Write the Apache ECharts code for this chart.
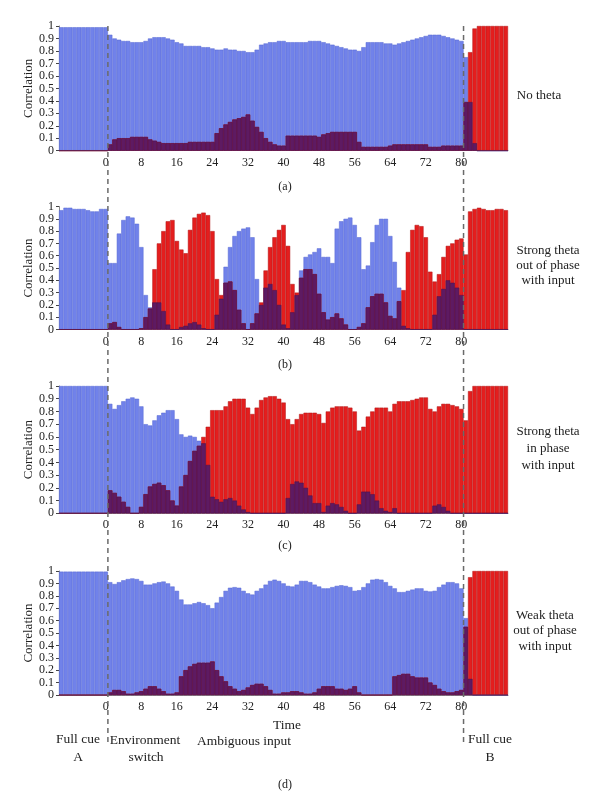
<!DOCTYPE html>
<html><head><meta charset="utf-8">
<script src="https://cdn.jsdelivr.net/npm/echarts@6/dist/echarts.min.js"></script>
<style>html,body{margin:0;padding:0;background:#fff}#c{width:600px;height:802px}</style>
</head><body><div id="c"></div>
<script>
// time steps -10 .. 90 (full cue A: -10..0, ambiguous input: 1..80, full cue B: 81..90)
const timeSteps = Array.from({length: 101}, (_, i) => i - 10);
const xTickLabels = [0, 8, 16, 24, 32, 40, 48, 56, 64, 72, 80];

// Panel (a) No theta
const blueA = [0.99,0.99,0.99,0.99,0.99,0.99,0.99,0.99,0.99,0.99,0.99,
 0.93,0.90,0.89,0.88,0.88,0.87,0.87,0.87,0.88,0.90,
 0.91,0.91,0.91,0.90,0.89,0.87,0.86,0.84,0.84,0.84,
 0.84,0.83,0.83,0.82,0.81,0.81,0.82,0.81,0.81,0.80,
 0.80,0.79,0.79,0.81,0.85,0.86,0.87,0.87,0.88,0.88,
 0.87,0.87,0.87,0.87,0.87,0.88,0.88,0.88,0.87,0.86,
 0.85,0.84,0.83,0.82,0.81,0.81,0.80,0.83,0.87,0.87,
 0.87,0.87,0.86,0.86,0.85,0.86,0.87,0.88,0.89,0.90,
 0.91,0.92,0.93,0.93,0.93,0.92,0.91,0.90,0.89,0.88,
 0.75,0.39,0.06,0,0,0,0,0,0,0];
const redA = [0,0,0,0,0,0,0,0,0,0,0,
 0.05,0.09,0.10,0.10,0.10,0.11,0.11,0.11,0.11,0.09,
 0.08,0.07,0.06,0.06,0.06,0.06,0.06,0.06,0.07,0.07,
 0.07,0.07,0.07,0.07,0.14,0.18,0.21,0.23,0.25,0.26,
 0.27,0.29,0.24,0.19,0.15,0.10,0.07,0.05,0.04,0.04,
 0.12,0.12,0.12,0.12,0.12,0.12,0.12,0.11,0.13,0.14,
 0.15,0.15,0.15,0.15,0.15,0.15,0.07,0.03,0.03,0.03,
 0.03,0.03,0.03,0.04,0.05,0.05,0.05,0.05,0.05,0.05,
 0.05,0.05,0.03,0.03,0.03,0.04,0.04,0.04,0.04,0.04,
 0.39,0.79,0.98,1,1,1,1,1,1,1];

// Panel (b) Strong theta out of phase with input
const blueB = [0.97,0.99,0.99,0.98,0.98,0.98,0.97,0.96,0.96,0.98,0.98,
 0.54,0.54,0.78,0.89,0.92,0.91,0.86,0.67,0.28,0.18,
 0.22,0.22,0.15,0.04,0,0,0.02,0.03,0.05,0.06,
 0.04,0.01,0,0,0.12,0.25,0.51,0.67,0.76,0.80,
 0.82,0.83,0.75,0.41,0.20,0.34,0.37,0.32,0.20,0.04,
 0.01,0.14,0.28,0.48,0.59,0.61,0.63,0.66,0.59,0.59,
 0.54,0.82,0.88,0.90,0.91,0.85,0.75,0.49,0.52,0.71,
 0.85,0.90,0.90,0.76,0.55,0.34,0.03,0.01,0,0,
 0,0,0,0.12,0.27,0.33,0.40,0.38,0.34,0.28,
 0,0,0,0,0,0,0,0,0,0];
const redB = [0,0,0,0,0,0,0,0,0,0,0,
 0.05,0.06,0.02,0,0,0,0,0.01,0.10,0.17,
 0.49,0.70,0.80,0.88,0.89,0.72,0.65,0.62,0.81,0.91,
 0.94,0.95,0.93,0.80,0.41,0.28,0.38,0.39,0.32,0.16,
 0.05,0,0.05,0.13,0.22,0.48,0.67,0.75,0.81,0.85,
 0.68,0.37,0.30,0.42,0.49,0.49,0.45,0.29,0.14,0.08,
 0.10,0.13,0.09,0.04,0,0,0.02,0.05,0.18,0.27,
 0.29,0.29,0.22,0.11,0.09,0.23,0.32,0.63,0.81,0.85,
 0.84,0.75,0.47,0.39,0.45,0.59,0.68,0.70,0.73,0.74,
 0.61,0.96,0.98,0.99,0.98,0.97,0.97,0.98,0.98,0.97];

// Panel (c) Strong theta in phase with input
const blueC = [1,1,1,1,1,1,1,1,1,1,1,
 0.86,0.82,0.85,0.88,0.90,0.91,0.90,0.84,0.70,0.69,
 0.73,0.77,0.79,0.81,0.81,0.74,0.62,0.60,0.61,0.60,
 0.57,0.55,0.38,0.13,0.11,0.09,0.11,0.12,0.10,0.06,
 0.03,0.01,0,0,0,0,0,0,0,0,
 0.12,0.23,0.25,0.24,0.20,0.14,0.08,0.08,0.01,0.06,
 0.08,0.07,0.05,0.02,0,0,0.07,0.17,0.17,0.15,
 0.10,0.04,0.02,0.01,0.04,0,0,0,0,0,
 0,0,0,0.06,0.07,0.05,0.02,0,0,0,
 0,0,0,0,0,0,0,0,0,0];
const redC = [0,0,0,0,0,0,0,0,0,0,0,
 0.18,0.16,0.13,0.09,0.05,0,0,0.05,0.15,0.21,
 0.23,0.24,0.22,0.18,0.10,0.06,0.21,0.30,0.41,0.49,
 0.53,0.60,0.68,0.81,0.81,0.81,0.84,0.88,0.90,0.90,
 0.90,0.83,0.78,0.83,0.89,0.91,0.92,0.92,0.90,0.87,
 0.74,0.70,0.74,0.78,0.79,0.79,0.79,0.78,0.71,0.80,
 0.83,0.84,0.84,0.84,0.83,0.80,0.65,0.68,0.76,0.80,
 0.83,0.83,0.83,0.80,0.86,0.88,0.88,0.88,0.89,0.90,
 0.91,0.91,0.82,0.80,0.84,0.86,0.86,0.85,0.84,0.82,
 0.73,0.96,1,1,1,1,1,1,1,1];

// Panel (d) Weak theta out of phase with input
const blueD = [0.995,0.995,0.995,0.995,0.995,0.995,0.995,0.995,0.995,0.995,0.995,
 0.91,0.895,0.91,0.925,0.935,0.94,0.935,0.92,0.89,0.89,
 0.90,0.91,0.915,0.90,0.875,0.84,0.77,0.73,0.73,0.74,
 0.75,0.74,0.725,0.70,0.745,0.79,0.84,0.865,0.87,0.865,
 0.84,0.82,0.81,0.84,0.86,0.89,0.92,0.93,0.92,0.90,
 0.88,0.875,0.89,0.92,0.92,0.91,0.89,0.875,0.86,0.86,
 0.87,0.88,0.885,0.88,0.87,0.84,0.845,0.87,0.90,0.93,
 0.935,0.93,0.91,0.88,0.86,0.83,0.83,0.84,0.85,0.86,
 0.86,0.84,0.835,0.84,0.87,0.89,0.91,0.91,0.90,0.86,
 0.62,0.13,0,0,0,0,0,0,0,0];
const redD = [0,0,0,0,0,0,0,0,0,0,0,
 0.02,0.04,0.04,0.03,0.01,0.01,0.02,0.03,0.05,0.07,
 0.07,0.05,0.03,0.01,0.01,0.02,0.15,0.20,0.23,0.25,
 0.26,0.26,0.26,0.27,0.20,0.15,0.11,0.07,0.05,0.03,
 0.04,0.06,0.08,0.09,0.09,0.07,0.04,0.01,0.01,0.02,
 0.02,0.03,0.03,0.02,0.01,0.01,0.02,0.05,0.07,0.07,
 0.07,0.05,0.05,0.04,0.05,0.07,0.02,0,0,0,
 0,0,0,0,0.15,0.16,0.17,0.17,0.15,0.14,
 0.14,0.14,0.10,0.08,0.05,0.03,0.02,0.02,0.03,0.04,
 0.55,0.95,1,1,1,1,1,1,1,1];

const panelBlue = [blueA, blueB, blueC, blueD];
const panelRed = [redA, redB, redC, redD];
const panelCaptions = ['(a)', '(b)', '(c)', '(d)'];
const conditionLabels = ['No theta', 'Strong theta\nout of phase\nwith input', 'Strong theta\nin phase\nwith input', 'Weak theta\nout of phase\nwith input'];

const SERIF = '"Liberation Serif", "DejaVu Serif", serif';
const grids = [
  {left: 59, width: 449, top: 26, height: 124.7},
  {left: 59, width: 449, top: 206.5, height: 123},
  {left: 59, width: 449, top: 386, height: 127.3},
  {left: 59, width: 449, top: 571, height: 124}
];

const chart = echarts.init(document.getElementById('c'), null, {renderer: 'canvas'});
const xAxes = [], yAxes = [], series = [];
grids.forEach((g, i) => {
  xAxes.push({
    type: 'category', gridIndex: i, data: timeSteps.map(String), boundaryGap: true,
    axisLine: {show: true, lineStyle: {color: '#8a8a8a', width: 1}},
    axisTick: {show: false},
    axisLabel: {
      interval: (idx, val) => xTickLabels.indexOf(Number(val)) >= 0,
      fontFamily: SERIF, fontSize: 12, color: '#222', margin: 6
    },
    splitLine: {show: false}
  });
  yAxes.push({
    type: 'value', gridIndex: i, min: 0, max: 1, interval: 0.1,
    name: 'Correlation', nameLocation: 'middle', nameGap: 24, nameRotate: 90,
    nameMoveOverlap: false,
    nameTextStyle: {fontFamily: SERIF, fontSize: 13, color: '#222'},
    axisLine: {show: true, lineStyle: {color: '#8a8a8a', width: 1}},
    axisTick: {show: true, length: 3, lineStyle: {color: '#444'}},
    axisLabel: {formatter: v => String(Number(v.toFixed(1))), fontFamily: SERIF, fontSize: 12, color: '#222', margin: 5},
    splitLine: {show: false}
  });
  const b = panelBlue[i], r = panelRed[i];
  const overlap = b.map((v, k) => Math.min(v, r[k]));
  const common = {type: 'bar', xAxisIndex: i, yAxisIndex: i, barWidth: '100%', barGap: '-100%', silent: true, animation: false};
  series.push(Object.assign({}, common, {name: 'A' + i, data: b, itemStyle: {color: '#7182ea', borderColor: '#5566d2', borderWidth: 0.5}}));
  series.push(Object.assign({}, common, {name: 'B' + i, data: r, itemStyle: {color: '#e41e1e', borderColor: '#b01515', borderWidth: 0.5}}));
  series.push(Object.assign({}, common, {name: 'AB' + i, data: overlap, itemStyle: {color: '#5e1a62', borderColor: '#4a1250', borderWidth: 0.5}}));
});

chart.setOption({
  backgroundColor: '#fff', animation: false,
  grid: grids, xAxis: xAxes, yAxis: yAxes, series: series
});

// Dashed event lines at the boundaries between time 0|1 and 80|81, located via the axis scale
function boundaryX(i0) {
  const a = chart.convertToPixel({xAxisIndex: 0}, i0);
  const b = chart.convertToPixel({xAxisIndex: 0}, i0 + 1);
  return (a + b) / 2;
}
const xStart = boundaryX(timeSteps.indexOf(0));
const xEnd = boundaryX(timeSteps.indexOf(80));
const yTop = chart.convertToPixel({yAxisIndex: 0}, 1);
const yBottom = 743;

const graphics = [];
[xStart, xEnd].forEach(x => graphics.push({
  type: 'line', silent: true, z: 100,
  shape: {x1: x, y1: yTop, x2: x, y2: yBottom},
  style: {stroke: '#6a6a6a', lineWidth: 1.5, lineDash: [5, 4]}
}));
const captionY = [187, 365, 546, 785];
panelCaptions.forEach((c, i) => graphics.push({
  type: 'text', silent: true, x: 285, y: captionY[i],
  style: {text: c, font: '12px ' + SERIF, fill: '#222', align: 'center', verticalAlign: 'middle'}
}));
const condX = [539, 548, 548, 545];
const condY = [96, 266, 449, 631];
const condLH = [16, 15, 17, 15.5];
conditionLabels.forEach((c, i) => graphics.push({
  type: 'text', silent: true, x: condX[i], y: condY[i],
  style: {text: c, font: '13px ' + SERIF, fill: '#222', align: 'center', verticalAlign: 'middle', lineHeight: condLH[i]}
}));
const bottomTexts = [
  ['Time', 287, 725], ['Full cue', 78, 739], ['A', 78, 757],
  ['Environment', 145, 740], ['switch', 146, 757], ['Ambiguous input', 244, 741],
  ['Full cue', 490, 739], ['B', 490, 757]
];
bottomTexts.forEach(t => graphics.push({
  type: 'text', silent: true, x: t[1], y: t[2],
  style: {text: t[0], font: '13.5px ' + SERIF, fill: '#222', align: 'center', verticalAlign: 'middle'}
}));
chart.setOption({graphic: graphics});
</script></body></html>
